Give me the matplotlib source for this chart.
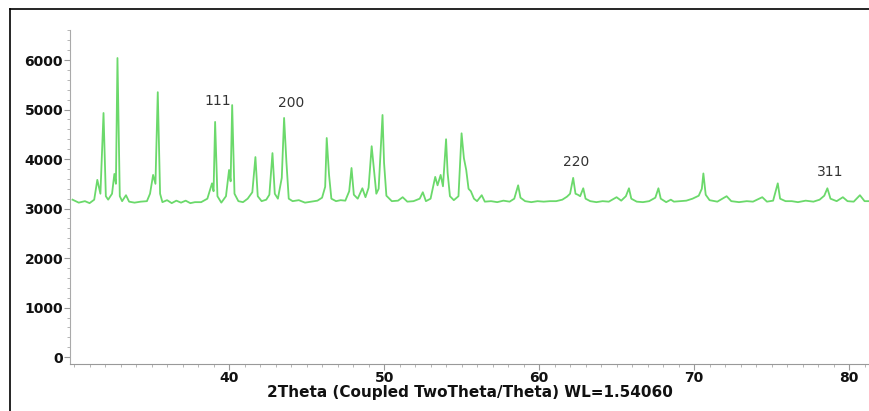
import matplotlib
matplotlib.use("Agg")
import matplotlib.pyplot as plt
from matplotlib.lines import Line2D
from matplotlib.ticker import MultipleLocator

# pattern (2theta, counts)
two_theta = [29.9, 30.3, 30.7, 31.0, 31.3, 31.5, 31.7, 31.9, 32.05, 32.2,
             32.45, 32.6, 32.7, 32.8, 32.95, 33.1, 33.35, 33.55, 33.9, 34.3,
             34.7, 34.9, 35.1, 35.25, 35.4, 35.55, 35.7, 36.0, 36.3, 36.6,
             36.9, 37.2, 37.5, 37.8, 38.2, 38.6, 38.9, 39.0, 39.1, 39.25,
             39.5, 39.8, 40.0, 40.1, 40.2, 40.35, 40.6, 40.9, 41.2, 41.5,
             41.7, 41.85, 42.1, 42.4, 42.6, 42.8, 42.95, 43.15, 43.4, 43.55,
             43.7, 43.85, 44.1, 44.5, 44.9, 45.3, 45.7, 46.0, 46.2, 46.3,
             46.45, 46.6, 46.9, 47.2, 47.5, 47.75, 47.9, 48.05, 48.3, 48.6,
             48.8, 49.0, 49.2, 49.35, 49.5, 49.65, 49.9, 50.0, 50.15, 50.5,
             50.9, 51.2, 51.5, 51.9, 52.3, 52.5, 52.7, 53.0, 53.3, 53.45,
             53.65, 53.8, 54.0, 54.1, 54.25, 54.5, 54.8, 55.0, 55.15, 55.3,
             55.45, 55.6, 55.8, 56.0, 56.3, 56.5, 56.9, 57.3, 57.7, 58.1,
             58.4, 58.65, 58.8, 59.1, 59.5, 59.9, 60.3, 60.7, 61.1, 61.5,
             61.8, 62.0, 62.2, 62.35, 62.5, 62.65, 62.85, 63.0, 63.3, 63.7,
             64.1, 64.5, 65.0, 65.3, 65.6, 65.8, 65.95, 66.3, 66.7, 67.1,
             67.5, 67.7, 67.85, 68.2, 68.5, 68.7, 69.1, 69.5, 69.9, 70.3,
             70.5, 70.6, 70.75, 71.0, 71.5, 72.1, 72.4, 72.9, 73.4, 73.8,
             74.4, 74.7, 75.1, 75.4, 75.55, 75.9, 76.3, 76.7, 77.2, 77.7,
             78.1, 78.4, 78.6, 78.8, 79.2, 79.6, 79.9, 80.3, 80.7, 81.0,
             81.4]
counts = [3180, 3120, 3150, 3110, 3180, 3580, 3300, 4930, 3250, 3180,
          3300, 3700, 3500, 6040, 3250, 3150, 3270, 3140, 3120, 3140,
          3150, 3300, 3680, 3500, 5350, 3300, 3130, 3170, 3110, 3160,
          3120, 3160, 3110, 3130, 3130, 3200, 3510, 3350, 4750, 3250,
          3120, 3250, 3780, 3550, 5090, 3300, 3150, 3130, 3200, 3330,
          4040, 3250, 3150, 3180, 3280, 4120, 3300, 3200, 3620, 4830,
          3940, 3200, 3150, 3170, 3120, 3140, 3160, 3220, 3440, 4425,
          3680, 3200, 3150, 3170, 3160, 3350, 3820, 3280, 3200, 3410,
          3230, 3420, 4260, 3780, 3300, 3400, 4890, 3920, 3260, 3150,
          3160, 3230, 3140, 3150, 3200, 3330, 3150, 3200, 3640, 3470,
          3680, 3450, 4400, 3720, 3250, 3170, 3250, 4520, 4020, 3780,
          3400, 3350, 3200, 3150, 3270, 3140, 3150, 3130, 3160, 3140,
          3200, 3470, 3220, 3150, 3130, 3150, 3140, 3150, 3150, 3180,
          3240, 3300, 3620, 3300, 3280, 3250, 3410, 3200, 3150, 3130,
          3150, 3140, 3230, 3160, 3250, 3410, 3200, 3140, 3130, 3150,
          3220, 3410, 3200, 3130, 3180, 3140, 3150, 3160, 3200, 3260,
          3400, 3710, 3280, 3170, 3140, 3250, 3150, 3130, 3150, 3140,
          3230, 3140, 3160, 3510, 3200, 3150, 3150, 3130, 3160, 3140,
          3180, 3260, 3410, 3200, 3150, 3230, 3150, 3140, 3270, 3150,
          3150]

hkl_labels = ['111', '200', '220', '311']
hkl_x = [39.3, 44.0, 62.4, 78.8]
hkl_y = [5170, 5130, 3940, 3740]

x_ticks = [40, 50, 60, 70, 80]

fig = plt.figure(figsize=(8.7, 4.11), dpi=100)
ax = fig.add_axes([0.0805, 0.114, 0.9195, 0.813])

ax.plot(two_theta, counts, color='#6bd96b', linewidth=1.3)

for lab, x, y in zip(hkl_labels, hkl_x, hkl_y):
    ax.text(x, y, lab, fontsize=10, color='#333333', ha='center', va='center')

ax.set_xlim(29.74, 81.35)
ax.set_ylim(-141, 6606)

ax.spines['top'].set_visible(False)
ax.spines['right'].set_visible(False)
ax.spines['left'].set_color('#aaaaaa')
ax.spines['left'].set_linestyle((0, (1, 1)))
ax.spines['bottom'].set_color('#999999')

ax.set_xticks(x_ticks)
ax.xaxis.set_minor_locator(MultipleLocator(1))
ax.yaxis.set_major_locator(MultipleLocator(1000))
ax.yaxis.set_minor_locator(MultipleLocator(200))
ax.tick_params(axis='both', which='major', length=4, color='#999999',
               labelsize=10, pad=1)
ax.tick_params(axis='both', which='minor', length=2, color='#aaaaaa')
for lbl in ax.get_xticklabels() + ax.get_yticklabels():
    lbl.set_fontweight('bold')
    lbl.set_color('#111111')

ax.set_xlabel('2Theta (Coupled TwoTheta/Theta) WL=1.54060', fontsize=11,
              fontweight='bold', color='#111111', labelpad=0)

# outer frame of the picture
fig.add_artist(Line2D([10 / 870, 10 / 870], [0, 1 - 9 / 411],
                      transform=fig.transFigure, color='black', linewidth=1.2))
fig.add_artist(Line2D([10 / 870, 1], [1 - 9 / 411, 1 - 9 / 411],
                      transform=fig.transFigure, color='black', linewidth=1.2))

fig.savefig('out.png', dpi=100)
